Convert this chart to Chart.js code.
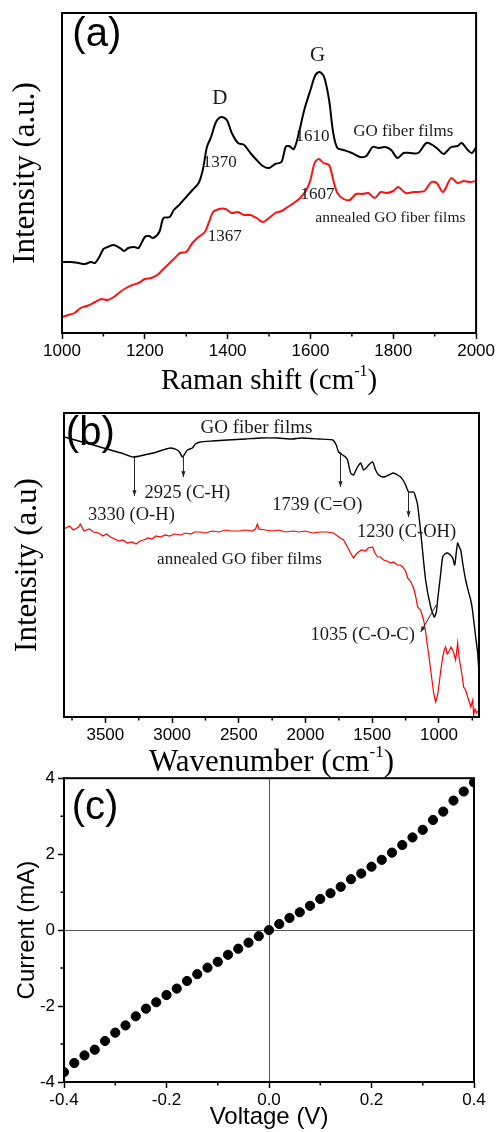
<!DOCTYPE html>
<html>
<head>
<meta charset="utf-8">
<script src="https://cdn.jsdelivr.net/npm/chart.js@4"></script>
<style>
  body { margin: 0; background: #fff; }
  .wrap { position: relative; width: 497px; height: 1132px; overflow: hidden; }
  canvas { position: absolute; left: 0; }
</style>
</head>
<body>
<div class="wrap">
  <canvas id="ramanChart" width="497" height="400" style="top:0"></canvas>
  <canvas id="ftirChart" width="497" height="380" style="top:400px"></canvas>
  <canvas id="ivChart" width="497" height="367" style="top:765px"></canvas>
</div>
<script>
// (a) Raman spectra, intensity in arbitrary units
const ramanShiftGO = [1000,1020,1040,1055,1070,1080,1090,1100,1110,1125,
  1140,1150,1160,1175,1185,1200,1210,1220,1235,1245,
  1260,1270,1285,1300,1315,1330,1340,1350,1360,1372,
  1385,1398,1410,1425,1440,1455,1470,1485,1500,1515,
  1530,1540,1548,1560,1572,1585,1600,1612,1622,1633,
  1645,1655,1665,1680,1700,1720,1735,1750,1765,1780,
  1795,1810,1825,1840,1860,1880,1895,1910,1922,1940,
  1955,1965,1980,1990,2000];
const ramanGO = [71,71,70,69,71,70,76,84,86,88,
  85,82,85,86,85,96,97,95,101,115,
  116,123,129,136,143,150,163,186,196,211,
  216,213,200,190,188,180,173,167,165,169,
  171,186,187,184,200,223,243,258,261,256,
  233,200,185,183,180,176,177,186,185,186,
  183,175,180,180,180,190,188,183,179,186,
  187,190,183,180,186];
const ramanShiftAnnealed = [1000,1015,1030,1045,1060,1080,1095,1110,1125,1140,
  1155,1170,1185,1200,1215,1230,1245,1260,1275,1285,
  1300,1315,1330,1345,1355,1365,1380,1395,1410,1425,
  1440,1455,1470,1485,1500,1515,1530,1545,1560,1575,
  1590,1600,1610,1620,1632,1645,1655,1665,1680,1695,
  1710,1725,1740,1755,1770,1785,1800,1812,1830,1850,
  1875,1892,1905,1920,1940,1955,1970,1985,2000];
const ramanAnnealed = [16,18,20,25,27,31,34,33,36,41,
  45,48,50,54,55,58,64,70,76,80,
  81,90,96,101,111,121,124,124,120,121,
  118,118,115,111,115,120,122,126,130,135,
  143,153,170,174,170,168,153,140,134,133,
  139,139,140,135,141,140,142,146,140,141,
  142,151,150,141,155,150,152,151,152];
const ramanTicks = [1000, 1200, 1400, 1600, 1800, 2000];

// (b) FTIR spectra
const waveGO = [3808,3700,3590,3463,3380,3290,3210,3140,3070,3013,
  2960,2940,2923,2905,2885,2848,2825,2788,2700,2585,
  2450,2338,2210,2100,2037,1900,1797,1770,1752,1722,
  1700,1685,1662,1640,1625,1610,1587,1565,1545,1527,
  1497,1475,1452,1415,1377,1340,1310,1287,1265,1250,
  1227,1190,1175,1160,1137,1100,1062,1035,1020,1010,
  990,972,955,935,915,897,882,870,860,848,
  837,820,800,780,762,750,740,725,710,700];
const ftirGO = [280,276,272,267,264,260,262,264,267,269,
  267,264,260,263,267,269,273,275,276,277,
  278,279,279,278,279,278,277,272,265,262,
  260,257,244,242,246,250,254,247,249,252,
  255,247,242,240,242,244,242,240,236,232,
  225,225,220,212,185,137,110,100,105,117,
  140,160,163,164,162,159,152,165,174,170,
  167,152,137,126,117,108,97,80,64,44];
const waveAnnealed = [3808,3770,3740,3700,3688,3660,3620,3590,3550,3520,
  3490,3463,3430,3400,3370,3335,3300,3270,3240,3215,
  3180,3150,3120,3088,3050,3020,2980,2938,2900,2860,
  2830,2788,2750,2700,2650,2600,2560,2500,2450,2400,
  2375,2360,2350,2300,2250,2200,2150,2090,2050,2000,
  1950,1888,1840,1790,1750,1715,1690,1662,1640,1620,
  1603,1580,1550,1530,1497,1480,1460,1440,1415,1390,
  1362,1340,1310,1290,1272,1250,1235,1210,1190,1175,
  1160,1137,1115,1100,1085,1062,1040,1025,1010,1002,
  985,972,960,950,938,927,910,897,885,875,
  860,850,837,825,815,800,785,770,762,747,
  740,730,717,708];
const ftirAnnealed = [188,191,187,190,193,186,188,185,184,181,
  183,180,178,176,177,174,175,173,176,177,
  179,178,181,180,182,181,183,182,184,183,
  185,185,184,186,185,187,186,186,187,186,
  188,193,188,187,186,187,185,186,185,186,
  184,185,185,184,180,177,171,164,159,163,
  165,167,166,169,170,164,160,160,157,156,
  154,155,152,152,150,146,139,135,129,121,
  110,107,97,85,70,47,24,15,22,30,
  48,60,67,70,63,65,70,67,62,57,
  74,60,50,40,30,27,20,14,10,17,
  2,8,4,6];
const ftirTicks = [3500, 3000, 2500, 2000, 1500, 1000];

// (c) I-V curve
const voltage = [-0.40,-0.38,-0.36,-0.34,-0.32,-0.30,-0.28,-0.26,-0.24,-0.22,
  -0.20,-0.18,-0.16,-0.14,-0.12,-0.10,-0.08,-0.06,-0.04,-0.02,
  0.00,0.02,0.04,0.06,0.08,0.10,0.12,0.14,0.16,0.18,
  0.20,0.22,0.24,0.26,0.28,0.30,0.32,0.34,0.36,0.38,0.40];
const current = [-3.74,-3.50,-3.30,-3.15,-2.92,-2.70,-2.51,-2.27,-2.07,-1.90,
  -1.71,-1.54,-1.34,-1.16,-0.99,-0.835,-0.65,-0.49,-0.33,-0.16,
  0.00,0.16,0.32,0.47,0.64,0.82,0.97,1.14,1.34,1.49,
  1.67,1.85,2.04,2.24,2.44,2.64,2.90,3.12,3.41,3.65,3.89];

const SERIF = '"Liberation Serif", "Times New Roman", serif';
const SANS = '"Liberation Sans", Arial, sans-serif';
Chart.defaults.font.family = SANS;
Chart.defaults.color = "#000";

const toXY = (xs, ys) => xs.map((x, i) => ({ x, y: ys[i] }));
const fixedTicks = list => scale => { scale.ticks = list.map(value => ({ value })); };

// frame, minor ticks, x title with superscript, text labels and arrows
const notesPlugin = {
  id: "notes",
  afterDatasetsDraw(chart, args, opts) {
    const { ctx, chartArea: a } = chart;
    const sx = chart.scales.x, sy = chart.scales.y;
    ctx.save();
    ctx.strokeStyle = "#000";
    ctx.lineWidth = 2;
    ctx.strokeRect(a.left, a.top, a.right - a.left, a.bottom - a.top);

    ctx.lineWidth = 1.5;
    ctx.beginPath();
    (opts.minorX || []).forEach(v => {
      const px = sx.getPixelForValue(v);
      ctx.moveTo(px, a.bottom); ctx.lineTo(px, a.bottom + 3.5);
    });
    (opts.minorY || []).forEach(v => {
      const py = sy.getPixelForValue(v);
      ctx.moveTo(a.left, py); ctx.lineTo(a.left - 3.5, py);
    });
    ctx.stroke();

    // x-axis title: "<main> (cm" + superscript "-1" + ")"
    if (opts.xTitle) {
      const t = opts.xTitle;
      const big = `${t.size}px ${SERIF}`, small = `${Math.round(t.size * 0.55)}px ${SERIF}`;
      ctx.font = big;
      const w1 = ctx.measureText(t.main).width, w3 = ctx.measureText(")").width;
      ctx.font = small;
      const w2 = ctx.measureText("-1").width;
      let x0 = (a.left + a.right) / 2 - (w1 + w2 + w3) / 2;
      const y0 = sx.bottom - t.offset;
      ctx.fillStyle = "#000";
      ctx.textAlign = "left";
      ctx.textBaseline = "alphabetic";
      ctx.font = big; ctx.fillText(t.main, x0, y0); x0 += w1;
      ctx.font = small; ctx.fillText("-1", x0, y0 - t.size * 0.45); x0 += w2;
      ctx.font = big; ctx.fillText(")", x0, y0);
    }

    ctx.strokeStyle = "#222";
    ctx.fillStyle = "#222";
    ctx.lineWidth = 1;
    (opts.arrows || []).forEach(r => {
      const x1 = sx.getPixelForValue(r.x1), y1 = sy.getPixelForValue(r.y1);
      const x2 = sx.getPixelForValue(r.x2), y2 = sy.getPixelForValue(r.y2);
      const ang = Math.atan2(y2 - y1, x2 - x1);
      ctx.beginPath();
      ctx.moveTo(x1, y1); ctx.lineTo(x2, y2);
      ctx.stroke();
      ctx.beginPath();
      ctx.moveTo(x2, y2);
      ctx.lineTo(x2 - 6 * Math.cos(ang - 0.35), y2 - 6 * Math.sin(ang - 0.35));
      ctx.lineTo(x2 - 6 * Math.cos(ang + 0.35), y2 - 6 * Math.sin(ang + 0.35));
      ctx.closePath();
      ctx.fill();
    });

    ctx.textAlign = "center";
    ctx.textBaseline = "middle";
    (opts.texts || []).forEach(t => {
      ctx.font = `${t.size}px ${t.family || SERIF}`;
      ctx.fillStyle = t.color || "#1a1a1a";
      ctx.fillText(t.text, sx.getPixelForValue(t.x), sy.getPixelForValue(t.y));
    });
    ctx.restore();
  }
};

const tickGrid = { drawOnChartArea: false, tickLength: 6, tickColor: "#000", tickWidth: 1.5 };
const plainLabel = v => String(v);

// ---- (a) Raman ----
new Chart(document.getElementById("ramanChart"), {
  type: "line",
  data: {
    datasets: [
      { label: "GO fiber films", data: toXY(ramanShiftGO, ramanGO),
        borderColor: "#000", borderWidth: 2, pointRadius: 0, tension: 0.3 },
      { label: "annealed GO fiber films", data: toXY(ramanShiftAnnealed, ramanAnnealed),
        borderColor: "#ff1010", borderWidth: 2, pointRadius: 0, tension: 0.3 }
    ]
  },
  options: {
    responsive: false,
    animation: false,
    layout: { padding: { top: 13, right: 20, left: 0, bottom: 2 } },
    plugins: {
      legend: { display: false },
      tooltip: { enabled: false },
      notes: {
        minorX: [1100, 1300, 1500, 1700, 1900],
        xTitle: { main: "Raman shift (cm", size: 29, offset: 9 },
        texts: [
          { text: "(a)", x: 1084, y: 298, size: 40, family: SANS, color: "#000" },
          { text: "D", x: 1381, y: 235, size: 21 },
          { text: "G", x: 1617, y: 278, size: 21 },
          { text: "1370", x: 1381, y: 170, size: 17 },
          { text: "1610", x: 1605, y: 196, size: 17 },
          { text: "GO fiber films", x: 1824, y: 201, size: 17 },
          { text: "1607", x: 1617, y: 138, size: 17 },
          { text: "annealed GO fiber films", x: 1793, y: 115, size: 15.5 },
          { text: "1367", x: 1393, y: 96, size: 17 }
        ]
      }
    },
    scales: {
      x: {
        type: "linear", min: 1000, max: 2000,
        afterFit: s => { s.height = 65; },
        afterBuildTicks: fixedTicks(ramanTicks),
        ticks: { font: { size: 17 }, padding: 2, maxRotation: 0, autoSkip: false, callback: plainLabel },
        grid: tickGrid,
        border: { color: "#000", width: 2 },
        title: { display: false }
      },
      y: {
        min: 0, max: 320,
        afterFit: s => { s.width = 62; },
        ticks: { display: false },
        grid: { display: false },
        border: { color: "#000", width: 2 },
        title: { display: true, text: "Intensity (a.u.)", font: { family: SERIF, size: 31 }, padding: { top: 7, bottom: 0 } }
      }
    }
  },
  plugins: [notesPlugin]
});

// ---- (b) FTIR ----
new Chart(document.getElementById("ftirChart"), {
  type: "line",
  data: {
    datasets: [
      { label: "GO fiber films", data: toXY(waveGO, ftirGO),
        borderColor: "#000", borderWidth: 1.4, pointRadius: 0, tension: 0.2 },
      { label: "annealed GO fiber films", data: toXY(waveAnnealed, ftirAnnealed),
        borderColor: "#ff0000", borderWidth: 1.2, pointRadius: 0, tension: 0 }
    ]
  },
  options: {
    responsive: false,
    animation: false,
    layout: { padding: { top: 13, right: 18, left: 0, bottom: 0 } },
    plugins: {
      legend: { display: false },
      tooltip: { enabled: false },
      notes: {
        minorX: [750, 1250, 1750, 2250, 2750, 3250, 3750],
        xTitle: { main: "Wavenumber (cm", size: 31, offset: 9 },
        arrows: [
          { x1: 3282, y1: 260, x2: 3282, y2: 221 },
          { x1: 2915, y1: 260, x2: 2915, y2: 240 },
          { x1: 1738, y1: 265, x2: 1738, y2: 230 },
          { x1: 1228, y1: 225, x2: 1228, y2: 200 },
          { x1: 1020, y1: 112, x2: 1137, y2: 85 }
        ],
        texts: [
          { text: "(b)", x: 3613, y: 283, size: 40, family: SANS, color: "#000" },
          { text: "GO fiber films", x: 2368, y: 289, size: 19 },
          { text: "2925 (C-H)", x: 2886, y: 224, size: 18.5 },
          { text: "3330 (O-H)", x: 3305, y: 202, size: 18.5 },
          { text: "1739 (C=O)", x: 1912, y: 212, size: 18.5 },
          { text: "1230 (C-OH)", x: 1243, y: 185, size: 18.5 },
          { text: "annealed GO fiber films", x: 2495, y: 157, size: 17 },
          { text: "1035 (C-O-C)", x: 1572, y: 82, size: 18.5 }
        ]
      }
    },
    scales: {
      x: {
        type: "linear", reverse: true, min: 700, max: 3810,
        afterFit: s => { s.height = 63; },
        afterBuildTicks: fixedTicks(ftirTicks),
        ticks: { font: { size: 17 }, padding: 2, maxRotation: 0, autoSkip: false, callback: plainLabel },
        grid: tickGrid,
        border: { color: "#000", width: 2 },
        title: { display: false }
      },
      y: {
        min: 0, max: 304,
        afterFit: s => { s.width = 64; },
        ticks: { display: false },
        grid: { display: false },
        border: { color: "#000", width: 2 },
        title: { display: true, text: "Intensity (a.u)", font: { family: SERIF, size: 31 }, padding: { top: 9, bottom: 0 } }
      }
    }
  },
  plugins: [notesPlugin]
});

// ---- (c) I-V ----
const zeroLine = ctx => (ctx.tick && Math.abs(ctx.tick.value) < 1e-9) ? "#555" : "rgba(0,0,0,0)";
new Chart(document.getElementById("ivChart"), {
  type: "scatter",
  data: {
    datasets: [
      { label: "I-V", data: toXY(voltage, current),
        backgroundColor: "#000", borderColor: "#000", pointRadius: 4.6, pointHoverRadius: 4.6 }
    ]
  },
  options: {
    responsive: false,
    animation: false,
    layout: { padding: { top: 13, right: 23, left: 0, bottom: 0 } },
    plugins: {
      legend: { display: false },
      tooltip: { enabled: false },
      notes: {
        minorX: [-0.3, -0.1, 0.1, 0.3],
        minorY: [-3, -1, 1, 3],
        texts: [
          { text: "(c)", x: -0.3395, y: 3.21, size: 40, family: SANS, color: "#000" }
        ]
      }
    },
    scales: {
      x: {
        type: "linear", min: -0.4, max: 0.4,
        afterFit: s => { s.height = 50; },
        ticks: { stepSize: 0.2, font: { size: 17 }, padding: 2, maxRotation: 0,
          callback: v => v.toFixed(1) },
        grid: { color: zeroLine, lineWidth: 1, tickLength: 6, tickColor: "#000", tickWidth: 1.5 },
        border: { color: "#000", width: 2 },
        title: { display: true, text: "Voltage (V)", font: { size: 24 }, padding: { top: 0, bottom: 0 } }
      },
      y: {
        min: -4, max: 4,
        afterFit: s => { s.width = 64; },
        ticks: { stepSize: 2, font: { size: 17 }, padding: 3 },
        grid: { color: zeroLine, lineWidth: 1, tickLength: 6, tickColor: "#000", tickWidth: 1.5 },
        border: { color: "#000", width: 2 },
        title: { display: true, text: "Current (mA)", font: { size: 24 }, padding: { top: 12.6, bottom: 0 } }
      }
    }
  },
  plugins: [notesPlugin]
});
</script>
</body>
</html>
